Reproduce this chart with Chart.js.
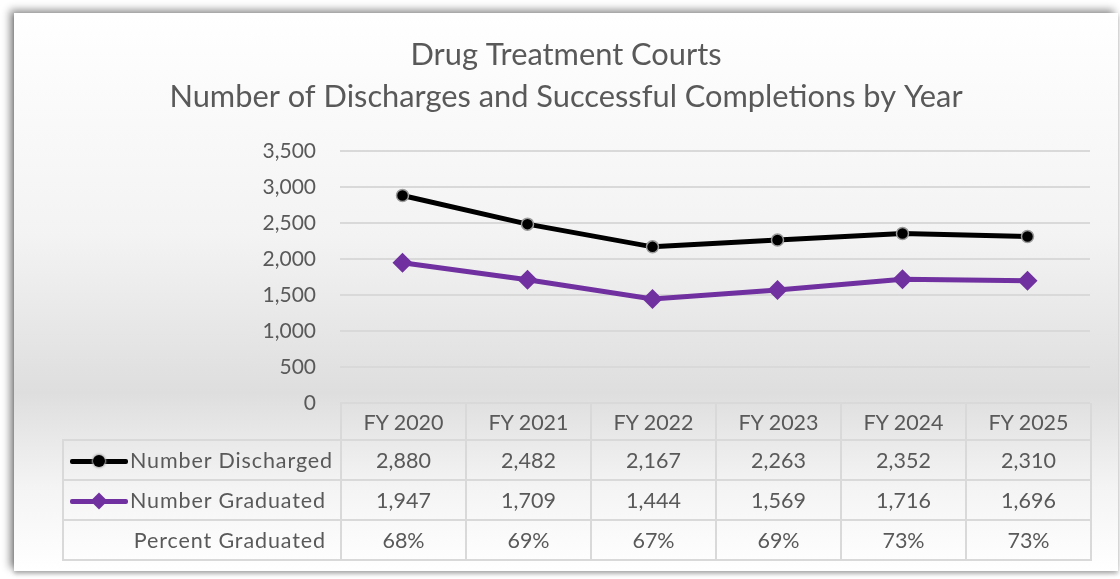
<!DOCTYPE html>
<html>
<head>
<meta charset="utf-8">
<script src="https://cdn.jsdelivr.net/npm/chart.js@4.4.1/dist/chart.umd.min.js"></script>
<style>
  body { margin: 0; background: #fff; width: 1120px; height: 579px; overflow: hidden; font-family: Lato, "Open Sans", sans-serif; }
  #card {
    position: absolute; left: 14px; top: 13px; width: 1104px; height: 558px;
    background: linear-gradient(to bottom, #ffffff 0%, #f3f3f3 40%, #dedede 68%, #f4f4f4 85%, #ffffff 100%);
    box-shadow: -4px -3px 8px rgba(0,0,0,0.45), 0 3px 4px rgba(0,0,0,0.25);
  }
  #chart { position: absolute; left: 0; top: 0; }
  #table { position: absolute; border-collapse: collapse; color: #595959; font-size: 21.5px; }
  #table td { border: 2px solid #d9d9d9; text-align: center; padding: 0; height: 38px; box-sizing: border-box; }
  #table tr.head td { border-top: none; height: 37px; padding-top: 2px; }
  #table tr.head td.blank { border: none; border-right: 2px solid #d9d9d9; }
  #table td.label { text-align: right; padding-right: 6px; white-space: nowrap; letter-spacing: 0.9px; }
  #table td.label.series { text-align: left; padding-left: 6px; padding-right: 0; }
  .key { display: inline-block; position: relative; width: 58px; height: 20px; vertical-align: middle; margin-right: 2px; top: -2px; }
  .key .ln { position: absolute; left: 0; right: 0; top: 8px; height: 5px; border-radius: 2px; }
  .key .dot { position: absolute; left: 23px; top: 4px; width: 12px; height: 12px; border-radius: 50%; background: #000; box-shadow: 0 0 2px 1px #aaa; }
  .key .dia { position: absolute; left: 23px; top: 4px; width: 12px; height: 12px; background: #7030a0; transform: rotate(45deg); }
</style>
</head>
<body>
<div id="card">
  <canvas id="chart" width="1104" height="558"></canvas>
  <table id="table"></table>
</div>
<script>
const years = ['FY 2020', 'FY 2021', 'FY 2022', 'FY 2023', 'FY 2024', 'FY 2025'];
const discharged = [2880, 2482, 2167, 2263, 2352, 2310];
const graduated = [1947, 1709, 1444, 1569, 1716, 1696];
const percentGraduated = [68, 69, 67, 69, 73, 73];
const titleLines = ['Drug Treatment Courts', 'Number of Discharges and Successful Completions by Year'];

const textColor = '#595959';
const fmt = (n) => n.toLocaleString('en-US');

function buildTable(chart) {
  const area = chart.chartArea;
  const colW = (area.right - area.left) / years.length;
  const table = document.getElementById('table');
  const labelW = 278;
  table.style.left = (area.left - labelW) + 'px';
  table.style.top = area.bottom + 'px';

  let html = '<tr class="head"><td class="blank" style="width:' + labelW + 'px"></td>';
  years.forEach((y) => { html += '<td style="width:' + colW + 'px">' + y + '</td>'; });
  html += '</tr>';

  html += '<tr style="height:40px"><td class="label series"><span class="key"><span class="ln" style="background:#000"></span><span class="dot"></span></span>Number Discharged</td>';
  discharged.forEach((v) => { html += '<td>' + fmt(v) + '</td>'; });
  html += '</tr>';

  html += '<tr style="height:40px"><td class="label series"><span class="key"><span class="ln" style="background:#7030a0"></span><span class="dia"></span></span>Number Graduated</td>';
  graduated.forEach((v) => { html += '<td>' + fmt(v) + '</td>'; });
  html += '</tr>';

  html += '<tr style="height:40px"><td class="label" style="padding-right:14px">Percent Graduated</td>';
  percentGraduated.forEach((v) => { html += '<td>' + v + '%</td>'; });
  html += '</tr>';
  table.innerHTML = html;
}

const tablePlugin = {
  id: 'dataTable',
  afterRender(chart) {
    if (!chart._tableDone) {
      chart._tableDone = true;
      buildTable(chart);
    }
  },
};

new Chart(document.getElementById('chart'), {
  type: 'line',
  data: {
    labels: years,
    datasets: [
      {
        label: 'Number Discharged',
        data: discharged,
        borderColor: '#000000',
        backgroundColor: '#000000',
        borderWidth: 5,
        pointStyle: 'circle',
        pointRadius: 6,
        pointBorderColor: '#9a9a9a',
        pointBorderWidth: 1.5,
        tension: 0,
      },
      {
        label: 'Number Graduated',
        data: graduated,
        borderColor: '#7030a0',
        backgroundColor: '#7030a0',
        borderWidth: 5,
        pointStyle: 'rectRot',
        pointRadius: 10,
        pointBorderWidth: 0,
        tension: 0,
      },
    ],
  },
  options: {
    responsive: false,
    animation: false,
    layout: { padding: { left: 28, right: 28, top: 0, bottom: 160 } },
    plugins: {
      legend: { display: false },
      tooltip: { enabled: false },
      title: {
        display: true,
        text: titleLines,
        color: textColor,
        font: { family: 'Lato', size: 30.8, weight: 'normal', lineHeight: 1.36 },
        padding: { top: 21, bottom: 33 },
      },
    },
    scales: {
      x: {
        offset: true,
        grid: { display: false },
        border: { display: false },
        ticks: { display: false },
      },
      y: {
        min: 0,
        max: 3500,
        afterFit(scale) { scale.width = 298; },
        ticks: {
          stepSize: 500,
          color: textColor,
          font: { family: 'Lato', size: 21 },
          padding: 24,
          callback: (v) => fmt(v),
        },
        grid: { color: '#d9d9d9', lineWidth: 2, drawTicks: false },
        border: { display: false },
      },
    },
  },
  plugins: [tablePlugin],
});
</script>
</body>
</html>
